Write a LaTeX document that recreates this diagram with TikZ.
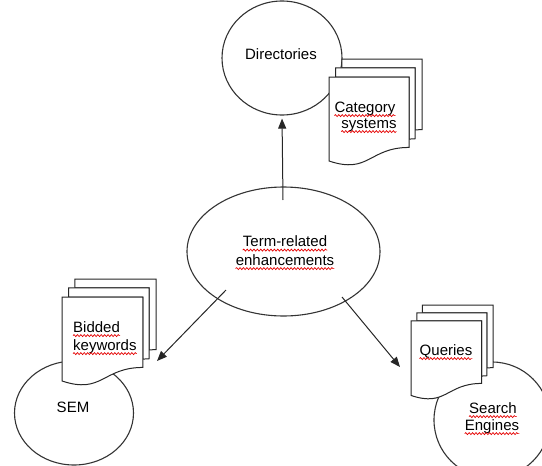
\documentclass[tikz,border=0pt]{standalone}
\usepackage{fontspec}
\setmainfont{Liberation Sans}
\usetikzlibrary{arrows.meta,shapes.geometric,decorations.pathmorphing}

\tikzset{
  blob/.style={draw=black!80, line width=1.1pt, ellipse, inner sep=0pt},
  sheet/.style={draw=black!85, line width=1pt, fill=white},
  word/.style={font=\fontsize{15}{17}\selectfont, inner sep=0pt, text=black},
  squiggle/.style={draw=red!90!black, line width=0.7pt,
    decorate, decoration={snake, amplitude=1pt, segment length=3.4pt}},
  link/.style={draw=black!85, line width=1pt, -{Triangle[length=10pt,width=8pt]}},
}

% stack of three pages, bounding box top-left at (#2,#3), size #4 x #5
\newcommand\docstack[5]{%
  \begin{scope}[shift={(#2,#3)}, x=#4pt, y=-#5pt]
    \draw[sheet] (0.1376,0.0841) -- (0.1376,0) -- (1,0) -- (1,0.6663)
      .. controls (0.9630,0.6663) and (0.9259,0.6698) .. (0.9259,0.6698)
      -- (0.9259,0.0841) -- cycle;
    \draw[sheet] (0.0709,0.1701) -- (0.0709,0.0841) -- (0.9259,0.0841) -- (0.9259,0.7524)
      .. controls (0.8934,0.7524) and (0.8609,0.7570) .. (0.8609,0.7570)
      -- (0.8609,0.1701) -- cycle;
    \draw[sheet] (0,0.9621) .. controls (0.4305,1.0899) and (0.4305,0.8344) .. (0.8609,0.8344)
      -- (0.8609,0.1701) -- (0,0.1701) -- cycle;
    \coordinate (#1) at (0.4305,0.52);
  \end{scope}}

\begin{document}
\begin{tikzpicture}[x=1pt, y=-1pt]
  \useasboundingbox (0,0) rectangle (542,466);
  \clip (0,0) rectangle (542,466);

  % ellipses
  \node[blob, minimum width=120pt, minimum height=114pt] (dir) at (282,58) {};
  \node[blob, minimum width=193pt, minimum height=129pt] (term) at (283.5,251.5) {};
  \node[blob, minimum width=119pt, minimum height=104pt] (sem) at (74,413) {};
  \node[blob, minimum width=116pt, minimum height=116pt] (search) at (492,420) {};

  % connectors out of the central ellipse
  \coordinate (t-up) at (283,200);
  \coordinate (t-left) at (226,290);
  \coordinate (t-right) at (342,297);
  \coordinate (sem-in) at (157,361);
  \coordinate (search-in) at (400,367);
  \draw[link, shorten >=3pt] (t-up) -- (dir.south);
  \draw[link] (t-left) -- (sem-in);
  \draw[link] (t-right) -- (search-in);

  % page stacks
  \docstack{cat}{329}{59}{93}{106}
  \docstack{bid}{62}{279}{94}{106}
  \docstack{qry}{411}{305}{82}{94}

  % labels
  \node[word, anchor=base] (dir-l) at (281,59) {Directories};
  \node[word, anchor=base] (term-l1) at (285,246.5) {Term-related};
  \node[word, anchor=base] (term-l2) at (285,265) {enhancements};
  \node[word, anchor=base] (sem-l) at (73,412) {SEM};
  \node[word, anchor=base] (search-l1) at (493,413) {Search};
  \node[word, anchor=base] (search-l2) at (492,430) {Engines};
  \node[word, anchor=base] (cat-l1) at (365,112) {Category};
  \node[word, anchor=base] (cat-l2) at (369,128) {systems};
  \node[word, anchor=base west] (bid-l1) at (73,332) {Bidded};
  \node[word, anchor=base west] (bid-l2) at (73,350) {keywords};
  \node[word, anchor=base] (qry-l) at (446,355) {Queries};

  % spelling marks under the flagged words
  \foreach \w in {term-l1,term-l2,search-l1,search-l2,cat-l1,cat-l2,bid-l1,bid-l2,qry-l}
    \draw[squiggle] ([yshift=-3.6pt]\w.base west) -- ([yshift=-3.6pt]\w.base east);
\end{tikzpicture}
\end{document}
